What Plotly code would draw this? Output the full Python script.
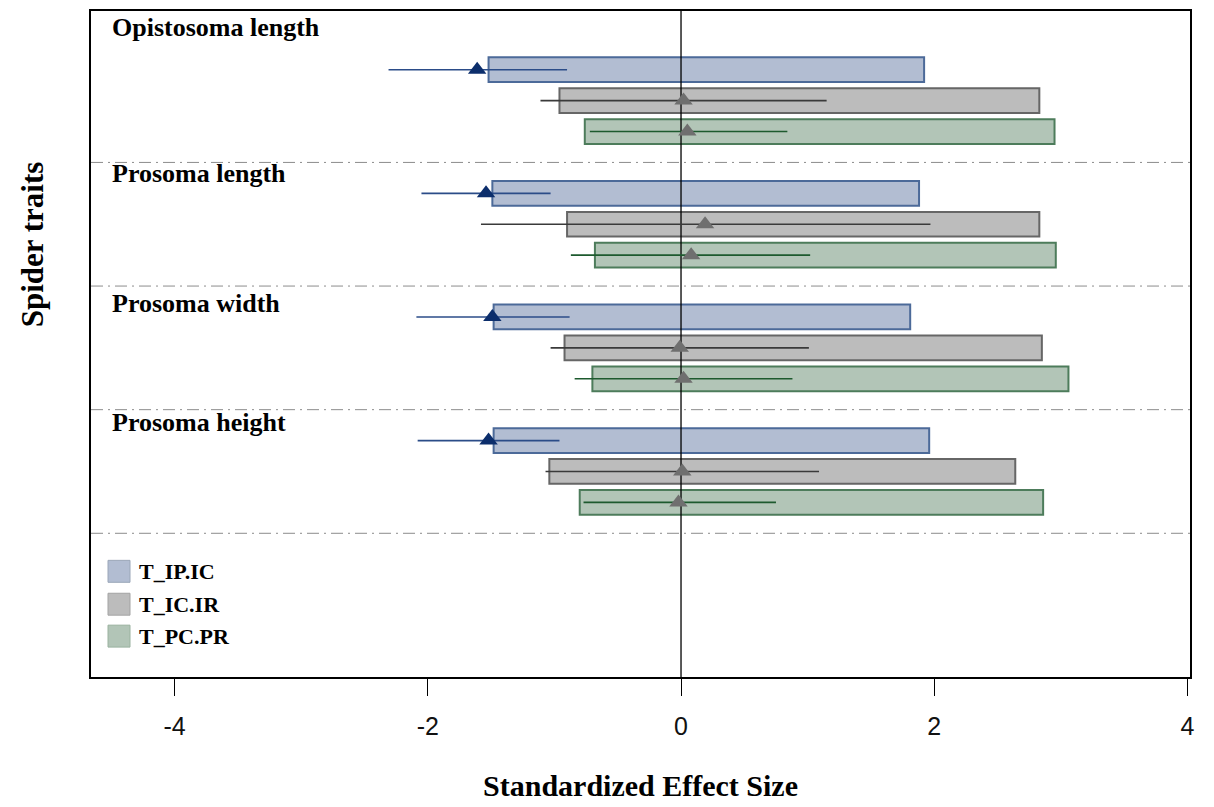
import plotly.graph_objects as go

# ---------------- data ----------------
traits = ["Opistosoma length", "Prosoma length", "Prosoma width", "Prosoma height"]
series = ["T_IP.IC", "T_IC.IR", "T_PC.PR"]

# bar extents (left, right) per trait, per series
bar_low = {
    "T_IP.IC": [-1.52, -1.49, -1.48, -1.48],
    "T_IC.IR": [-0.96, -0.90, -0.92, -1.04],
    "T_PC.PR": [-0.76, -0.68, -0.70, -0.80],
}
bar_high = {
    "T_IP.IC": [1.92, 1.88, 1.81, 1.96],
    "T_IC.IR": [2.83, 2.83, 2.85, 2.64],
    "T_PC.PR": [2.95, 2.96, 3.06, 2.86],
}
# observed standardized effect (triangle) and its interval
effect = {
    "T_IP.IC": [-1.61, -1.54, -1.49, -1.52],
    "T_IC.IR": [0.02, 0.19, -0.01, 0.01],
    "T_PC.PR": [0.05, 0.08, 0.02, -0.02],
}
ci_low = {
    "T_IP.IC": [-2.31, -2.05, -2.09, -2.08],
    "T_IC.IR": [-1.11, -1.58, -1.03, -1.07],
    "T_PC.PR": [-0.72, -0.87, -0.84, -0.77],
}
ci_high = {
    "T_IP.IC": [-0.90, -1.03, -0.88, -0.96],
    "T_IC.IR": [1.15, 1.97, 1.01, 1.09],
    "T_PC.PR": [0.84, 1.02, 0.88, 0.75],
}
x_ticks = [-4, -2, 0, 2, 4]

# ---------------- styles ----------------
fill = {"T_IP.IC": "#b2bdd2", "T_IC.IR": "#bcbcbc", "T_PC.PR": "#b2c5b7"}
edge = {"T_IP.IC": "#4c6a99", "T_IC.IR": "#666666", "T_PC.PR": "#4d7c5b"}
leg_edge = {"T_IP.IC": "#9aa6b8", "T_IC.IR": "#a3a3a3", "T_PC.PR": "#9ab29f"}
err_col = {"T_IP.IC": "#2b4c88", "T_IC.IR": "#3a3a3a", "T_PC.PR": "#1d5a2e"}
tri_col = {"T_IP.IC": "#0c2e6c", "T_IC.IR": "#6f6f6f", "T_PC.PR": "#6f6f6f"}

serif = "Liberation Serif, Times New Roman, serif"
sans = "Liberation Sans, Arial, sans-serif"

Y_TOP, Y_BOT = -0.9, 20.65
X_MIN, X_MAX = -4.66, 4.02


def ypos(j):
    return [4 * k + 1 + j for k in range(len(traits))]


fig = go.Figure()

for j, s in enumerate(series):
    fig.add_trace(go.Bar(
        orientation="h",
        y=ypos(j),
        base=bar_low[s],
        x=[h - l for h, l in zip(bar_high[s], bar_low[s])],
        width=0.8,
        marker=dict(color=fill[s], line=dict(color=edge[s], width=2)),
        showlegend=False,
        hoverinfo="skip",
    ))

# vertical zero line (above bars, below markers)
fig.add_trace(go.Scatter(
    x=[0, 0], y=[Y_TOP, Y_BOT], mode="lines",
    line=dict(color="black", width=1.3), showlegend=False, hoverinfo="skip",
))

for j, s in enumerate(series):
    fig.add_trace(go.Scatter(
        x=effect[s],
        y=ypos(j),
        mode="markers",
        marker=dict(symbol="triangle-up", size=16, color=tri_col[s]),
        error_x=dict(
            type="data", symmetric=False,
            array=[h - e for h, e in zip(ci_high[s], effect[s])],
            arrayminus=[e - l for e, l in zip(effect[s], ci_low[s])],
            width=0, thickness=1.6, color=err_col[s],
        ),
        showlegend=False,
    ))

shapes = []
for k in range(1, len(traits) + 1):
    shapes.append(dict(
        type="line", xref="paper", x0=0, x1=1, yref="y", y0=4 * k, y1=4 * k,
        line=dict(color="#8c8c8c", width=1, dash="12px,5px,2px,5px"), layer="below",
    ))

# page is drawn with an 8px body margin: target pixel -> figure pixel
OFF = 8
ML, MT, PW, PH = 91 - OFF, 1, 1099, 668
FIG_W, FIG_H = 1214 - OFF, 807 - OFF


def px(x):
    return (x - OFF - ML) / PW


def py(y):
    return (MT + PH - (y - OFF)) / PH


annotations = []
label_y = [-0.38, 4.36, 8.56, 12.42]
for name, yy in zip(traits, label_y):
    annotations.append(dict(
        x=-4.51, y=yy, xref="x", yref="y", text="<b>%s</b>" % name,
        showarrow=False, xanchor="left", yanchor="middle",
        font=dict(family=serif, size=26, color="black"),
    ))

leg_top = [560, 593, 625]
for s, t in zip(series, leg_top):
    shapes.append(dict(
        type="rect", xref="paper", yref="paper",
        x0=px(108), x1=px(130), y0=py(t + 22), y1=py(t),
        fillcolor=fill[s], line=dict(color=leg_edge[s], width=1),
    ))
    annotations.append(dict(
        x=px(137), y=py(t + 11), xref="paper", yref="paper",
        text="<b>%s</b>" % s, showarrow=False, xanchor="left", yanchor="middle",
        font=dict(family=serif, size=22, color="black"),
    ))

annotations.append(dict(
    x=px(32), y=py(243), xref="paper", yref="paper", text="<b>Spider traits</b>",
    showarrow=False, textangle=-90, xanchor="center", yanchor="middle",
    font=dict(family=serif, size=31, color="black"),
))

fig.update_layout(
    width=FIG_W, height=FIG_H,
    margin=dict(l=ML, r=FIG_W - ML - PW, t=MT, b=FIG_H - MT - PH),
    paper_bgcolor="white", plot_bgcolor="white",
    barmode="overlay",
    shapes=shapes, annotations=annotations,
    showlegend=False,
)
fig.update_xaxes(
    range=[X_MIN, X_MAX], tickvals=x_ticks, ticktext=[str(v) for v in x_ticks],
    showgrid=False, zeroline=False,
    showline=True, mirror=True, linecolor="black", linewidth=2,
    ticks="outside", ticklen=17, tickwidth=1, tickcolor="black",
    ticklabelstandoff=9,
    tickfont=dict(family=sans, size=25, color="#111"),
    title=dict(text="<b>Standardized Effect Size</b>", font=dict(family=serif, size=30, color="black"), standoff=36),
)
fig.update_yaxes(
    range=[Y_BOT, Y_TOP], showgrid=False, zeroline=False, showticklabels=False,
    showline=True, mirror=True, linecolor="black", linewidth=2, ticks="",
)

fig.write_html("out.html")
